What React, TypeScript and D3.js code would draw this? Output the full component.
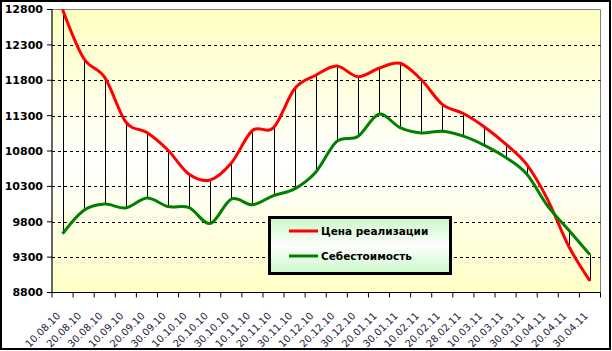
import * as d3 from "d3";

const categories = [
  "10.08.10", "20.08.10", "30.08.10", "10.09.10", "20.09.10", "30.09.10",
  "10.10.10", "20.10.10", "30.10.10", "10.11.10", "20.11.10", "30.11.10",
  "10.12.10", "20.12.10", "30.12.10", "20.01.11", "30.01.11", "10.02.11",
  "20.02.11", "28.02.11", "10.03.11", "20.03.11", "30.03.11", "10.04.11",
  "20.04.11", "30.04.11",
];

// Цена реализации
const price = [
  12800, 12110, 11840, 11210, 11060, 10810, 10470, 10390, 10630, 11090, 11130,
  11680, 11870, 12000, 11850, 11970, 12040, 11810, 11460, 11330, 11140, 10900,
  10610, 10110, 9450, 8965,
];

// Себестоимость
const cost = [
  9630, 9960, 10050, 9995, 10135, 10015, 10000, 9775, 10120, 10040, 10170,
  10265, 10500, 10935, 11005, 11320, 11130, 11055, 11080, 11010, 10880, 10710,
  10475, 10020, 9680, 9335,
];

const yTicks = [8800, 9300, 9800, 10300, 10800, 11300, 11800, 12300, 12800];

const seriesNames = ["Цена реализации", "Себестоимость"];
const seriesColors = ["#ff0000", "#008000"];

const W = 612;
const H = 351;
const plot = { left: 52, right: 600.5, top: 9.5, bottom: 292.5 };
const font = "'DejaVu Sans', Verdana, sans-serif";

export default function App() {
  const x = d3
    .scaleBand<string>()
    .domain(categories)
    .range([plot.left, plot.right])
    .paddingInner(0)
    .paddingOuter(0);
  const cx = (c: string) => (x(c) ?? 0) + x.bandwidth() / 2;

  const y = d3.scaleLinear().domain([8800, 12800]).range([plot.bottom, plot.top]);

  // Excel-style smoothed line
  const line = d3
    .line<number>()
    .x((_, i) => cx(categories[i]))
    .y((d) => y(d))
    .curve(d3.curveCatmullRom.alpha(0));

  const boundaries = categories.map((c) => x(c) ?? 0).concat([plot.right]);

  const legend = { x: 269.5, y: 217.5, w: 181, h: 56 };

  return (
    <svg
      width={W}
      height={H}
      style={{ position: "absolute", left: 0, top: 0, display: "block" }}
    >
      <defs>
        <linearGradient id="plotBg" x1="0" y1="0" x2="0" y2="1">
          <stop offset="0%" stopColor="#ffffc2" />
          <stop offset="55%" stopColor="#ffffff" />
          <stop offset="100%" stopColor="#ffffc6" />
        </linearGradient>
        <linearGradient id="legendBg" x1="0" y1="0" x2="0" y2="1">
          <stop offset="0%" stopColor="#c8f8c8" />
          <stop offset="50%" stopColor="#ffffff" />
          <stop offset="100%" stopColor="#c8f8c8" />
        </linearGradient>
      </defs>

      <rect x={0} y={0} width={W} height={H} fill="#fff" />
      <rect x={1} y={1} width={609} height={348} fill="none" stroke="#000" strokeWidth={2} />

      {/* plot area */}
      <rect
        x={plot.left}
        y={plot.top}
        width={plot.right - plot.left}
        height={plot.bottom - plot.top}
        fill="url(#plotBg)"
      />
      <line x1={plot.left} x2={plot.right} y1={plot.top} y2={plot.top} stroke="#808080" strokeWidth={1} />
      <line x1={plot.right} x2={plot.right} y1={plot.top} y2={plot.bottom} stroke="#808080" strokeWidth={1} />

      {/* gridlines */}
      {yTicks.slice(1, -1).map((t) => (
        <line
          key={t}
          x1={plot.left}
          x2={plot.right}
          y1={Math.round(y(t)) + 0.5}
          y2={Math.round(y(t)) + 0.5}
          stroke="#000"
          strokeWidth={1}
          strokeDasharray="3,3"
        />
      ))}

      {/* high-low lines */}
      {categories.map((c, i) => (
        <line
          key={c}
          x1={Math.round(cx(c)) + 0.5}
          x2={Math.round(cx(c)) + 0.5}
          y1={y(price[i])}
          y2={y(cost[i])}
          stroke="#000"
          strokeWidth={1}
        />
      ))}

      {/* axes */}
      <line x1={plot.left} x2={plot.left} y1={plot.top} y2={plot.bottom} stroke="#000" strokeWidth={1.2} />
      <line x1={plot.left} x2={plot.right} y1={plot.bottom} y2={plot.bottom} stroke="#000" strokeWidth={1.2} />
      {yTicks.map((t) => (
        <g key={t}>
          <line x1={plot.left - 5} x2={plot.left} y1={y(t)} y2={y(t)} stroke="#000" />
          <text
            x={43}
            y={y(t)}
            dy="0.36em"
            textAnchor="end"
            fontFamily={font}
            fontWeight="bold"
            fontSize={11}
            fill="#000"
          >
            {t}
          </text>
        </g>
      ))}
      {boundaries.map((b, i) => (
        <line key={i} x1={b} x2={b} y1={plot.bottom} y2={plot.bottom + 5} stroke="#000" />
      ))}
      {categories.map((c) => (
        <text
          key={c}
          transform={`translate(${cx(c) - 4},314) rotate(-45)`}
          dy="0.35em"
          textAnchor="end"
          fontFamily={font}
          fontSize={10}
          fill="#1a1a3a"
        >
          {c}
        </text>
      ))}

      {/* series */}
      {[price, cost].map((s, k) => (
        <path
          key={k}
          d={line(s) ?? ""}
          fill="none"
          stroke={seriesColors[k]}
          strokeWidth={3}
          strokeLinejoin="round"
        />
      ))}

      {/* legend */}
      <rect
        x={legend.x}
        y={legend.y}
        width={legend.w}
        height={legend.h}
        fill="url(#legendBg)"
        stroke="#000"
        strokeWidth={3}
      />
      {seriesNames.map((n, k) => {
        const ly = 231 + k * 25;
        return (
          <g key={n}>
            <line x1={289} x2={318} y1={ly} y2={ly} stroke={seriesColors[k]} strokeWidth={3} />
            <text
              x={321}
              y={ly}
              dy="0.36em"
              fontFamily={font}
              fontWeight="bold"
              fontSize={10.5}
              fill="#000"
            >
              {n}
            </text>
          </g>
        );
      })}
    </svg>
  );
}
